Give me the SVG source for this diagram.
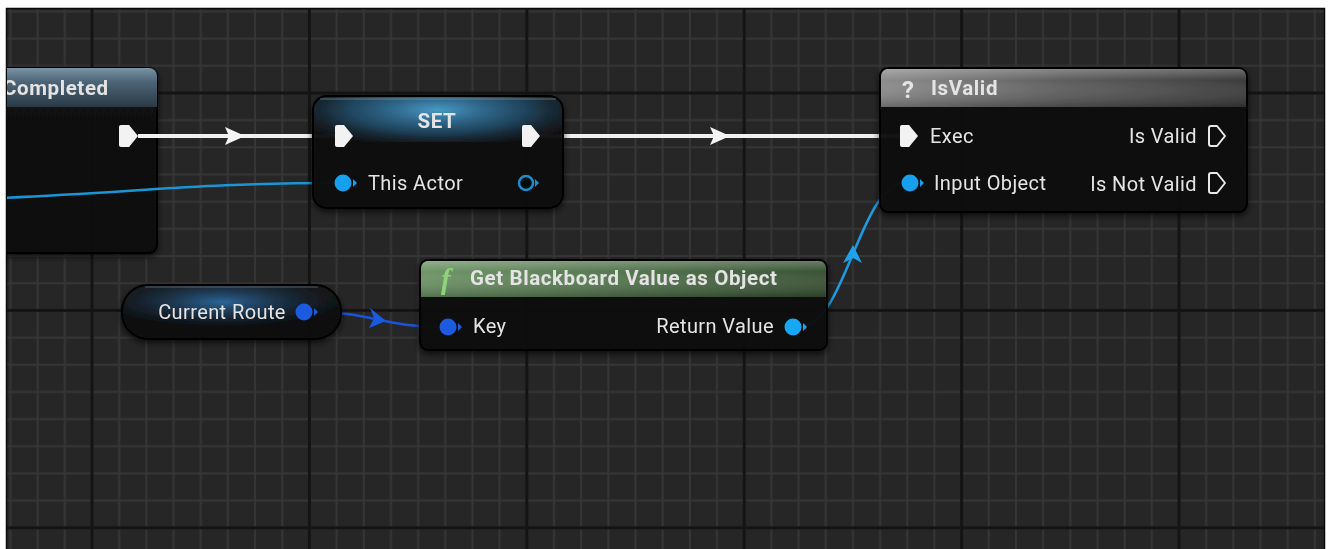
<svg xmlns="http://www.w3.org/2000/svg" width="1332" height="549" viewBox="0 0 1332 549">
<defs>
<pattern id="grid" x="90.5" y="91.5" width="217.4" height="217.4" patternUnits="userSpaceOnUse">
<rect width="217.4" height="217.4" fill="#262626"/>
<g fill="#363636">
<rect x="27.675" y="0" width="2" height="217.4"/><rect x="54.85" y="0" width="2" height="217.4"/><rect x="82.025" y="0" width="2" height="217.4"/><rect x="109.2" y="0" width="2" height="217.4"/><rect x="136.375" y="0" width="2" height="217.4"/><rect x="163.55" y="0" width="2" height="217.4"/><rect x="190.725" y="0" width="2" height="217.4"/>
<rect y="27.675" x="0" height="2" width="217.4"/><rect y="54.85" x="0" height="2" width="217.4"/><rect y="82.025" x="0" height="2" width="217.4"/><rect y="109.2" x="0" height="2" width="217.4"/><rect y="136.375" x="0" height="2" width="217.4"/><rect y="163.55" x="0" height="2" width="217.4"/><rect y="190.725" x="0" height="2" width="217.4"/>
</g>
<g fill="#141414">
<rect x="0" y="0" width="3" height="217.4"/><rect x="0" y="0" width="217.4" height="3"/>
</g>
</pattern>
<clipPath id="panel"><rect x="7" y="9" width="1317" height="540"/></clipPath>
<filter id="shadow" x="-10%" y="-20%" width="120%" height="150%">
<feDropShadow dx="0" dy="3" stdDeviation="3" flood-color="#000" flood-opacity="0.7"/>
</filter>
<linearGradient id="body" x1="0" y1="0" x2="0" y2="1">
<stop offset="0" stop-color="#161616" stop-opacity="0.9"/><stop offset="1" stop-color="#0a0a0a" stop-opacity="0.92"/>
</linearGradient>
<linearGradient id="hdrEvent" x1="0" y1="0" x2="0" y2="1">
<stop offset="0" stop-color="#7a93a5"/><stop offset="0.35" stop-color="#4d6577"/><stop offset="1" stop-color="#2a3a46"/>
</linearGradient>
<linearGradient id="hdrGrey" x1="0" y1="0" x2="1" y2="0">
<stop offset="0" stop-color="#8d8d8d"/><stop offset="0.5" stop-color="#5e5e5e"/><stop offset="1" stop-color="#3c3c3c"/>
</linearGradient>
<linearGradient id="hdrGreyV" x1="0" y1="0" x2="0" y2="1">
<stop offset="0" stop-color="#ffffff" stop-opacity="0.25"/><stop offset="0.3" stop-color="#ffffff" stop-opacity="0"/><stop offset="1" stop-color="#000" stop-opacity="0.25"/>
</linearGradient>
<linearGradient id="hdrGreen" x1="0" y1="0" x2="1" y2="0">
<stop offset="0" stop-color="#6f9668"/><stop offset="0.6" stop-color="#4f6e4a"/><stop offset="1" stop-color="#3a5236"/>
</linearGradient>
<radialGradient id="setGlow" cx="437" cy="110" r="150" gradientUnits="userSpaceOnUse" gradientTransform="translate(437 110) scale(1 0.25) translate(-437 -110)">
<stop offset="0" stop-color="#4aa0d0" stop-opacity="0.95"/><stop offset="0.6" stop-color="#26628a" stop-opacity="0.6"/><stop offset="1" stop-color="#1a3a50" stop-opacity="0"/>
</radialGradient>
<radialGradient id="varGlow" cx="222" cy="302" r="120" gradientUnits="userSpaceOnUse" gradientTransform="translate(222 302) scale(1 0.22) translate(-222 -302)">
<stop offset="0" stop-color="#2f6fa8" stop-opacity="0.9"/><stop offset="1" stop-color="#1a3550" stop-opacity="0"/>
</radialGradient>
<style>
.node{fill:url(#body);stroke:#050505;stroke-width:2}
.t{font-family:Roboto,"Liberation Sans",sans-serif;fill:#e4e4e4;font-size:20px;letter-spacing:0.4px}
.b{font-weight:bold;font-size:20.5px;letter-spacing:0.6px}
.q{font-size:24px}
.exec{fill:#f2f2f2}
.execH{fill:none;stroke:#e8e8e8;stroke-width:2;stroke-linejoin:round}
.wire{fill:none;stroke:#f0f0f0;stroke-width:4}
</style>
</defs>

<rect x="0" y="0" width="1332" height="549" fill="#ffffff"/>
<rect x="7" y="9" width="1317" height="540" fill="url(#grid)"/>
<rect x="6.5" y="8.5" width="1318" height="545" fill="none" stroke="#0a0a0a" stroke-width="1.5"/>

<g clip-path="url(#panel)">
<g id="node-completed" filter="url(#shadow)">
<rect class="node" x="-12" y="68" width="169" height="185" rx="8"/>
<path d="M-12,107 V76 a8,8 0 0 1 8,-8 H149 a8,8 0 0 1 8,8 V107 Z" fill="url(#hdrEvent)"/>
<text class="t b" x="3" y="95">Completed</text>
<path class="exec" d="M119,127 a2,2 0 0 1 2,-2 h8 l9,11 l-9,11 h-8 a2,2 0 0 1 -2,-2 z"/>
</g>

<g id="connectors">
<path d="M0,198 C140,192 200,183 336,183" fill="none" stroke="#1b95d6" stroke-width="2.5"/>
<line class="wire" x1="138" y1="136" x2="336" y2="136"/>
<polygon points="225,127 245,136 225,145 229,136" fill="#f4f4f4"/>
<line class="wire" x1="540" y1="136" x2="902" y2="136"/>
<polygon points="710,127 730,136 710,145 714,136" fill="#f4f4f4"/>
<path d="M313,312 C370,312 385,327 442,327" fill="none" stroke="#1a55d8" stroke-width="2.5"/>
<polygon points="370,308 386,321 369,328 374,318" fill="#1a5ae0"/>
<path d="M800,327 C845,327 860,183 905,183" fill="none" stroke="#1e9be0" stroke-width="2.5"/>
<polygon points="853,245 862,263 853,258 843,263" fill="#1ea2ea"/>
</g>

<g id="node-set" filter="url(#shadow)">
<rect class="node" x="313" y="96" width="250" height="112" rx="14"/>
<path d="M314,142 V110 a13,13 0 0 1 13,-13 H549 a13,13 0 0 1 13,13 V142 Z" fill="url(#setGlow)"/>
<path d="M320,99 H556" stroke="#8a9aa6" stroke-width="1.2" opacity="0.6"/>
<text class="t b" x="437" y="128" text-anchor="middle" fill="#dde6ec">SET</text>
<path class="exec" d="M335,127 a2,2 0 0 1 2,-2 h7 l9,11 l-9,11 h-7 a2,2 0 0 1 -2,-2 z"/>
<path class="exec" d="M522,127 a2,2 0 0 1 2,-2 h7 l9,11 l-9,11 h-7 a2,2 0 0 1 -2,-2 z"/>
<circle cx="343" cy="183" r="8.5" fill="#12a0ee"/>
<polygon points="353,179 357,183 353,187" fill="#12a0ee"/>
<text class="t" x="368" y="190">This Actor</text>
<circle cx="526" cy="183" r="7" fill="#050a10" stroke="#1a8ed0" stroke-width="2.5"/>
<polygon points="535,179 539,183 535,187" fill="#1a8ed0"/>
</g>

<g id="node-isvalid" filter="url(#shadow)">
<rect class="node" x="880" y="68" width="367" height="144" rx="8"/>
<path d="M881,107 V76 a7,7 0 0 1 7,-7 H1239 a7,7 0 0 1 7,7 V107 Z" fill="url(#hdrGrey)"/>
<path d="M881,107 V76 a7,7 0 0 1 7,-7 H1239 a7,7 0 0 1 7,7 V107 Z" fill="url(#hdrGreyV)"/>
<text class="t b q" x="902" y="98">?</text>
<text class="t b" x="931" y="95">IsValid</text>
<path class="exec" d="M900,127 a2,2 0 0 1 2,-2 h7 l9,11 l-9,11 h-7 a2,2 0 0 1 -2,-2 z"/>
<text class="t" x="930" y="143">Exec</text>
<text class="t" x="1197" y="143" text-anchor="end">Is Valid</text>
<path class="execH" d="M1209,128 a2,2 0 0 1 2,-2 h6 l8,10 l-8,10 h-6 a2,2 0 0 1 -2,-2 z"/>
<circle cx="910" cy="183" r="8.5" fill="#12a0ee"/>
<polygon points="920,179 924,183 920,187" fill="#12a0ee"/>
<text class="t" x="934" y="190">Input Object</text>
<text class="t" x="1197" y="191" text-anchor="end">Is Not Valid</text>
<path class="execH" d="M1209,175 a2,2 0 0 1 2,-2 h6 l8,10 l-8,10 h-6 a2,2 0 0 1 -2,-2 z"/>
</g>

<g id="node-current-route" filter="url(#shadow)">
<rect class="node" x="122" y="285" width="219" height="54" rx="26"/>
<rect x="123" y="286" width="217" height="52" rx="25" fill="url(#varGlow)"/>
<path d="M145,287 H318" stroke="#8a9aa6" stroke-width="1.2" opacity="0.5"/>
<text class="t" x="222" y="319" text-anchor="middle">Current Route</text>
<circle cx="304" cy="312" r="8.5" fill="#1a5ae0"/>
<polygon points="314,308 318,312 314,316" fill="#1a5ae0"/>
</g>

<g id="node-get-blackboard" filter="url(#shadow)">
<rect class="node" x="420" y="260" width="407" height="90" rx="8"/>
<path d="M421,297 V268 a7,7 0 0 1 7,-7 H819 a7,7 0 0 1 7,7 V297 Z" fill="url(#hdrGreen)"/>
<path d="M421,297 V268 a7,7 0 0 1 7,-7 H819 a7,7 0 0 1 7,7 V297 Z" fill="url(#hdrGreyV)"/>
<text x="441" y="289" font-family="'Liberation Serif',serif" font-style="italic" font-weight="bold" font-size="29" fill="#8fd27c">f</text>
<text class="t b" x="470" y="285">Get Blackboard Value as Object</text>
<circle cx="448" cy="327" r="8.5" fill="#1a5ae0"/>
<polygon points="458,323 462,327 458,331" fill="#1a5ae0"/>
<text class="t" x="473" y="333">Key</text>
<text class="t" x="774" y="333" text-anchor="end">Return Value</text>
<circle cx="793" cy="327" r="8.5" fill="#14a8f5"/>
<polygon points="803,323 807,327 803,331" fill="#14a8f5"/>
</g>
</g>
</svg>
